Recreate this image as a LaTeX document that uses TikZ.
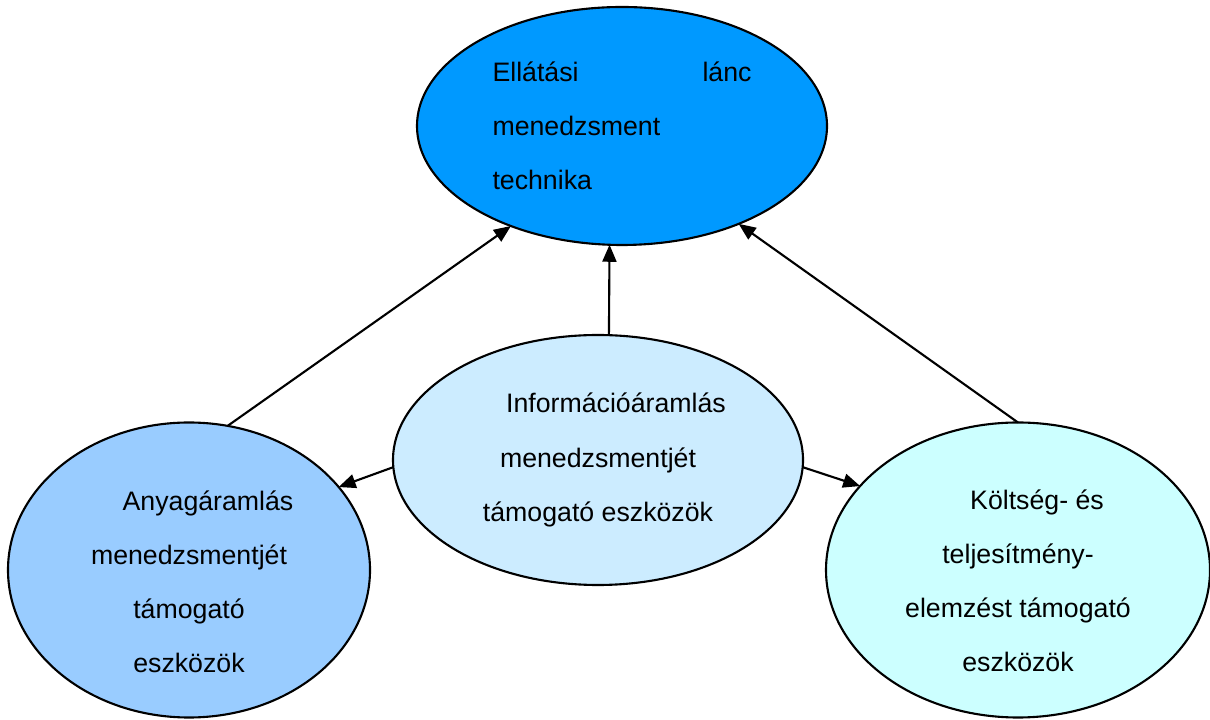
\documentclass[tikz,border=0pt]{standalone}
\usepackage{fontspec}
\setmainfont{Liberation Sans}
\usepackage{tikz}
\usetikzlibrary{arrows.meta,shapes.geometric}
\definecolor{lanckek}{HTML}{0099FF}
\definecolor{infokek}{HTML}{CCECFF}
\definecolor{anyagkek}{HTML}{99CCFF}
\definecolor{koltsegkek}{HTML}{CCFFFF}

\begin{document}
\begin{tikzpicture}[
  bubble/.style={ellipse,draw=black,line width=0.6pt,inner sep=0pt,outer sep=0pt,
    font=\fontsize{7.6}{15.4}\selectfont},
  link/.style={line width=0.6pt,-{Triangle[length=1.7mm,width=1.4mm]}}]
\useasboundingbox (0cm,0cm) rectangle (12.1cm,-7.2cm);
\node[bubble,fill=lanckek,minimum width=4.1cm,minimum height=2.38cm,
  text width=2.59cm,align=left] (lanc) at (6.22cm,-1.26cm)
  {Ellátási\hfill lánc\\ menedzsment\\ technika};
\node[bubble,fill=infokek,minimum width=4.1cm,minimum height=2.5cm,align=center]
  (info) at (5.98cm,-4.6cm)
  {\hspace*{3.6mm}Információáramlás\\ menedzsmentjét\\ támogató eszközök};
\node[bubble,fill=anyagkek,minimum width=3.62cm,minimum height=2.95cm,align=center]
  (anyag) at (1.89cm,-5.7cm)
  {\rule{0pt}{4.3mm}\hspace*{3.8mm}Anyagáramlás\\ menedzsmentjét\\ támogató\\ eszközök};
\node[bubble,fill=koltsegkek,minimum width=3.84cm,minimum height=2.95cm,align=center]
  (koltseg) at (10.18cm,-5.7cm)
  {\rule{0pt}{4.1mm}\hspace*{3.8mm}Költség- és\\ teljesítmény-\\ elemzést támogató\\ eszközök};
\draw[link] (anyag.75) -- (lanc.222);
\draw[link] (info.85) -- (lanc.264);
\draw[link] (koltseg.north) -- (lanc.320);
\draw[link] (info.182) -- (anyag.29);
\draw[link] (info.358) -- (koltseg.152);
\end{tikzpicture}
\end{document}
